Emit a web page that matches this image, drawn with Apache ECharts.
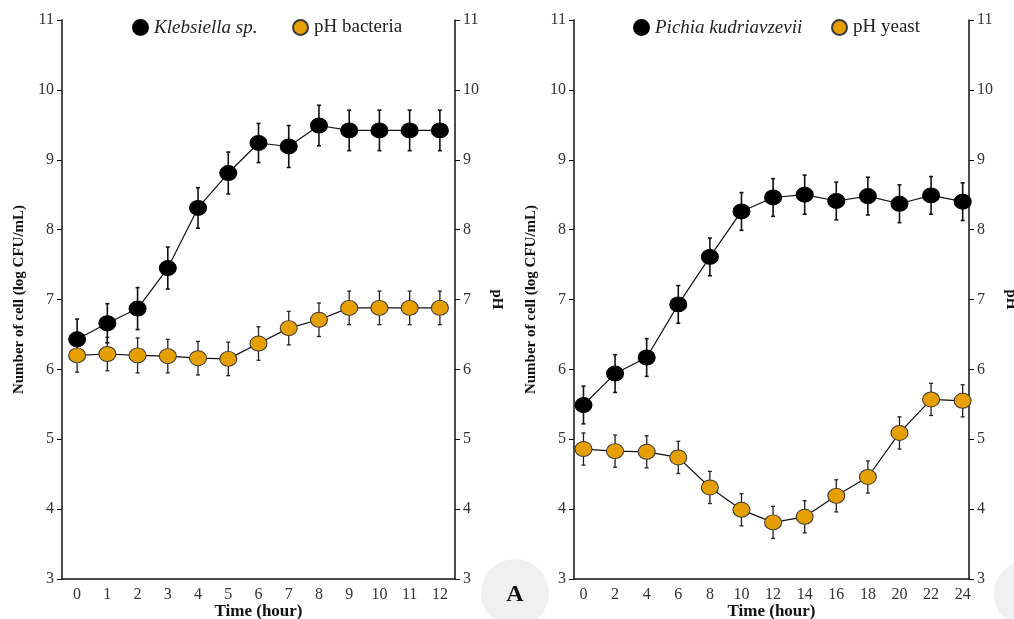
<!DOCTYPE html>
<html>
<head>
<meta charset="utf-8">
<script src="https://cdn.jsdelivr.net/npm/echarts@6/dist/echarts.min.js"></script>
<style>html,body{margin:0;padding:0;background:#fff;}#c{width:1014px;height:619px;}</style>
</head>
<body>
<div id="c"></div>
<script>
// Panel A: Klebsiella sp.
var hoursA = [0,1,2,3,4,5,6,7,8,9,10,11,12];
var klebsiella = [6.43,6.66,6.87,7.45,8.31,8.81,9.24,9.19,9.49,9.42,9.42,9.42,9.42];
var klebsiellaErr = [0.29,0.28,0.30,0.30,0.29,0.30,0.28,0.30,0.29,0.29,0.29,0.29,0.29];
var phBacteria = [6.20,6.22,6.20,6.19,6.16,6.15,6.37,6.59,6.71,6.88,6.88,6.88,6.88];
var phBacteriaErr = [0.24,0.24,0.25,0.24,0.24,0.24,0.24,0.24,0.24,0.24,0.24,0.24,0.24];
// Panel B: Pichia kudriavzevii
var hoursB = [0,2,4,6,8,10,12,14,16,18,20,22,24];
var pichia = [5.49,5.94,6.17,6.93,7.61,8.26,8.46,8.50,8.41,8.48,8.37,8.49,8.40];
var pichiaErr = [0.27,0.27,0.27,0.27,0.27,0.27,0.27,0.28,0.27,0.27,0.27,0.27,0.27];
var phYeast = [4.86,4.83,4.82,4.74,4.31,3.99,3.81,3.89,4.19,4.46,5.09,5.57,5.55];
var phYeastErr = [0.23,0.23,0.23,0.23,0.23,0.23,0.23,0.23,0.23,0.23,0.23,0.23,0.23];

var FONT = '"Liberation Serif", "DejaVu Serif", serif';
var chart = echarts.init(document.getElementById('c'), null, {renderer:'canvas'});

function pairs(xs, ys){ return xs.map(function(x,i){ return [x, ys[i]]; }); }
function errData(xs, ys, es){ return xs.map(function(x,i){ return [x, ys[i]-es[i], ys[i]+es[i]]; }); }
function errSeries(xi, yi, data, color, w){
  return {
    type:'custom', xAxisIndex:xi, yAxisIndex:yi, z:1, silent:true,
    data:data, encode:{x:0, y:[1,2]},
    renderItem:function(params, api){
      var x = api.value(0);
      var lo = api.coord([x, api.value(1)]);
      var hi = api.coord([x, api.value(2)]);
      var c = 2;
      var st = {stroke:color, lineWidth:w};
      return {type:'group', children:[
        {type:'line', shape:{x1:lo[0],y1:lo[1],x2:hi[0],y2:hi[1]}, style:st},
        {type:'line', shape:{x1:lo[0]-c,y1:lo[1],x2:lo[0]+c,y2:lo[1]}, style:st},
        {type:'line', shape:{x1:hi[0]-c,y1:hi[1],x2:hi[0]+c,y2:hi[1]}, style:st}
      ]};
    }
  };
}
function lineSeries(name, xi, yi, data, color, border){
  return {
    name:name, type:'line', xAxisIndex:xi, yAxisIndex:yi, data:data,
    symbol:'circle', symbolSize:[17,15], z:3,
    lineStyle:{color:'#111', width:1.2},
    itemStyle:{color:color, borderColor:border, borderWidth:1},
    emphasis:{disabled:true}, animation:false
  };
}
var labelStyle = {fontFamily:FONT, fontSize:16, color:'#333'};
function yAxis(gi, pos, name, rot){
  return {
    type:'value', gridIndex:gi, position:pos, min:3, max:11, interval:1,
    axisLine:{show:true, onZero:false, lineStyle:{color:'#111', width:1.5}},
    axisTick:{show:true, length:5, lineStyle:{color:'#111', width:1}},
    axisLabel:Object.assign({margin:8}, labelStyle),
    splitLine:{show:false},
    name:name, nameLocation:'middle', nameGap: pos==='left'?35:34, nameRotate:rot,
    nameMoveOverlap:false,
    nameTextStyle:{fontFamily:FONT, fontSize:15, fontWeight:'bold', color:'#111'}
  };
}
function xAxis(gi, min, max, ticks){
  return {
    type:'value', gridIndex:gi, min:min, max:max,
    axisLine:{show:true, onZero:false, lineStyle:{color:'#111', width:1.5}},
    axisTick:{show:false},
    axisLabel:Object.assign({margin:8, customValues:ticks, showMinLabel:true, showMaxLabel:true}, labelStyle),
    splitLine:{show:false},
    name:'Time (hour)', nameLocation:'middle', nameGap:24, nameMoveOverlap:false,
    nameTextStyle:{fontFamily:FONT, fontSize:17, fontWeight:'bold', color:'#111'}
  };
}
function legendFmt(name){
  if (name==='Klebsiella sp.' || name==='Pichia kudriavzevii') return '{i|'+name+'}';
  return '{n|'+name+'}';
}
var legText = {fontFamily:FONT, fontSize:19, color:'#222',
  rich:{i:{fontFamily:FONT, fontSize:19, fontStyle:'italic', color:'#222'}, n:{fontFamily:FONT, fontSize:19, color:'#222'}}};
function legend(name, left){
  return {data:[name], left:left, top:13, icon:'circle', itemWidth:17, itemHeight:15, itemGap:8,
    formatter:legendFmt, textStyle:legText, selectedMode:false};
}

chart.setOption({
  animation:false,
  backgroundColor:'#fff',
  grid:[
    {left:62, top:20, width:393, height:559, containLabel:false, outerBoundsMode:'none'},
    {left:574, top:20, width:395, height:559, containLabel:false, outerBoundsMode:'none'}
  ],
  xAxis:[ xAxis(0, -0.5, 12.5, hoursA), xAxis(1, -0.6, 24.4, hoursB) ],
  yAxis:[
    yAxis(0,'left','Number of cell (log CFU/mL)',90),
    yAxis(0,'right','pH',-90),
    yAxis(1,'left','Number of cell (log CFU/mL)',90),
    yAxis(1,'right','pH',-90)
  ],
  legend:[
    legend('Klebsiella sp.', 127),
    legend('pH bacteria', 287),
    legend('Pichia kudriavzevii', 628),
    legend('pH yeast', 826)
  ],
  series:[
    errSeries(0,0, errData(hoursA, klebsiella, klebsiellaErr), '#111', 1.6),
    lineSeries('Klebsiella sp.',0,0, pairs(hoursA, klebsiella), '#000', '#000'),
    errSeries(0,1, errData(hoursA, phBacteria, phBacteriaErr), '#222', 1.3),
    lineSeries('pH bacteria',0,1, pairs(hoursA, phBacteria), '#E69F00', '#3a3a3a'),
    errSeries(1,2, errData(hoursB, pichia, pichiaErr), '#111', 1.6),
    lineSeries('Pichia kudriavzevii',1,2, pairs(hoursB, pichia), '#000', '#000'),
    errSeries(1,3, errData(hoursB, phYeast, phYeastErr), '#222', 1.3),
    lineSeries('pH yeast',1,3, pairs(hoursB, phYeast), '#E69F00', '#3a3a3a')
  ],
  graphic:[
    {type:'circle', shape:{cx:515, cy:593, r:34}, style:{fill:'#f0f0f0'}, z:-1},
    {type:'text', x:515, y:595, style:{text:'A', fontFamily:FONT, fontSize:24, fontWeight:'bold', fill:'#111', align:'center', verticalAlign:'middle'}},
    {type:'circle', shape:{cx:1028, cy:594, r:34}, style:{fill:'#f0f0f0'}, z:-1}
  ]
});
</script>
</body>
</html>
